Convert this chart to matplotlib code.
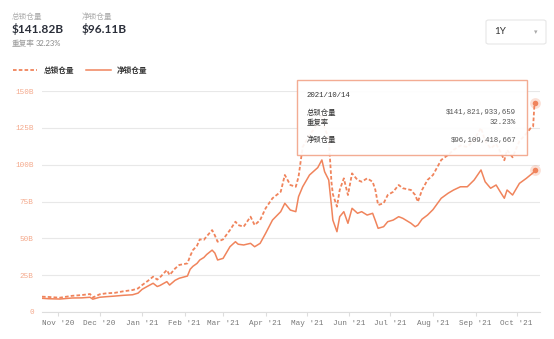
import numpy as np
import pandas as pd
import matplotlib
matplotlib.use("Agg")
import matplotlib.pyplot as plt
import matplotlib.dates as mdates
from matplotlib.patches import FancyBboxPatch

plt.rcParams['font.family'] = ['Lato', 'Noto Sans CJK SC', 'DejaVu Sans']
MONO = ['Liberation Mono', 'Noto Sans CJK SC', 'DejaVu Sans']
CJK = ['Noto Sans CJK SC', 'DejaVu Sans']

# data (billions of USD)
dates = ["2020-10-20", "2020-10-25", "2020-11-02", "2020-11-11", "2020-11-18", "2020-11-24",
         "2020-11-26", "2020-12-01", "2020-12-06", "2020-12-12", "2020-12-18", "2020-12-25",
         "2020-12-29", "2021-01-01", "2021-01-05", "2021-01-09", "2021-01-12", "2021-01-14",
         "2021-01-19", "2021-01-21", "2021-01-25", "2021-01-28", "2021-02-03", "2021-02-05",
         "2021-02-07", "2021-02-10", "2021-02-12", "2021-02-15", "2021-02-17", "2021-02-21",
         "2021-02-23", "2021-02-25", "2021-03-01", "2021-03-06", "2021-03-10", "2021-03-12",
         "2021-03-16", "2021-03-21", "2021-03-24", "2021-03-28", "2021-04-01", "2021-04-06",
         "2021-04-12", "2021-04-15", "2021-04-19", "2021-04-23", "2021-04-25", "2021-04-28",
         "2021-05-03", "2021-05-09", "2021-05-12", "2021-05-14", "2021-05-17", "2021-05-19",
         "2021-05-20", "2021-05-23", "2021-05-25", "2021-05-28", "2021-05-31", "2021-06-03",
         "2021-06-07", "2021-06-10", "2021-06-14", "2021-06-18", "2021-06-20", "2021-06-22",
         "2021-06-26", "2021-06-29", "2021-07-03", "2021-07-07", "2021-07-10", "2021-07-16",
         "2021-07-19", "2021-07-21", "2021-07-24", "2021-07-28", "2021-08-01", "2021-08-07",
         "2021-08-12", "2021-08-16", "2021-08-21", "2021-08-26", "2021-08-31", "2021-09-05",
         "2021-09-08", "2021-09-12", "2021-09-16", "2021-09-19", "2021-09-22", "2021-09-24",
         "2021-09-28", "2021-10-03", "2021-10-08", "2021-10-11", "2021-10-13", "2021-10-14"]

total_tvl = [10.4, 10.2, 9.7, 11.0, 11.5, 12.2, 9.8, 12.0, 12.7, 13.0, 14.0, 14.9,
             16.0, 18.3, 21.0, 24.0, 22.0, 23.5, 28.5, 25.1, 29.5, 31.9, 33.0, 38.0,
             42.0, 45.0, 49.3, 49.0, 51.3, 55.6, 52.0, 47.7, 49.3, 55.6, 61.3, 59.0,
             57.9, 64.7, 59.0, 62.4, 70.4, 77.2, 81.6, 93.0, 86.2, 85.0, 91.8, 112.0,
             120.0, 128.0, 133.0, 125.0, 118.0, 88.0, 80.0, 71.5, 82.8, 90.7, 79.4, 94.1,
             89.6, 88.4, 90.7, 88.4, 82.8, 72.6, 73.8, 79.4, 81.6, 86.2, 84.0, 82.8,
             79.4, 74.8, 82.8, 89.6, 93.0, 103.2, 106.6, 110.0, 113.0, 112.0, 117.0, 125.0,
             116.0, 111.0, 114.0, 109.0, 103.0, 110.0, 105.0, 116.0, 121.0, 124.6, 126.0, 141.82]

net_tvl = [9.3, 9.0, 8.8, 9.5, 9.6, 10.0, 8.7, 10.0, 10.4, 10.8, 11.3, 11.7,
           12.8, 15.4, 17.5, 19.5, 17.3, 18.0, 20.6, 18.3, 21.5, 22.9, 24.4, 29.0,
           31.0, 33.0, 35.3, 37.0, 39.0, 42.0, 40.0, 35.3, 36.4, 44.3, 47.7, 46.0,
           45.5, 46.6, 44.3, 46.6, 53.4, 62.4, 68.1, 73.8, 69.2, 68.1, 78.3, 85.0,
           93.0, 98.0, 103.2, 95.2, 89.6, 72.0, 62.4, 54.5, 64.7, 68.1, 60.2, 70.4,
           67.0, 68.1, 65.8, 67.0, 62.0, 56.8, 57.9, 61.3, 62.4, 64.7, 63.6, 60.2,
           57.9, 59.0, 63.0, 65.8, 69.5, 77.2, 80.6, 82.8, 85.0, 85.0, 89.6, 96.4,
           88.4, 84.0, 86.2, 81.6, 77.2, 82.8, 79.4, 87.3, 90.7, 93.0, 94.5, 96.11]

y_ticks = [0, 25, 50, 75, 100, 125, 150]
y_labels = ["0", "25B", "50B", "75B", "100B", "125B", "150B"]

x = pd.to_datetime(dates)
orange = "#f0845c"
W, H = 554, 339

fig = plt.figure(figsize=(W / 100, H / 100), dpi=100)
ax = fig.add_axes([42 / W, 27 / H, 498 / W, 221 / H])

ax.plot(x, total_tvl, color=orange, lw=1.3, ls=(0, (2.0, 1.2)), label="总锁仓量")
ax.plot(x, net_tvl, color=orange, lw=1.1, label="净锁仓量")
for v in (total_tvl[-1], net_tvl[-1]):
    ax.scatter(x[-1], v, s=60, color=orange, alpha=0.25, lw=0, clip_on=False, zorder=4)
    ax.scatter(x[-1], v, s=16, color=orange, lw=0, clip_on=False, zorder=5)

ax.set_ylim(0, 150)
ax.set_xlim(x[0], x[-1] + pd.Timedelta(days=4))
ax.set_yticks(y_ticks)
ax.set_yticklabels(y_labels, fontsize=5.5, color="#f4a98c", family=MONO)
ax.xaxis.set_major_locator(mdates.MonthLocator())
ax.xaxis.set_major_formatter(mdates.DateFormatter("%b '%y"))
for lab in ax.get_xticklabels():
    lab.set_fontsize(5.5)
    lab.set_color("#777777")
    lab.set_family(MONO)
ax.tick_params(axis="y", length=0, pad=6)
ax.tick_params(axis="x", length=3, color="#dddddd", pad=3)
ax.grid(axis="y", color="#e8e8e8", lw=0.8)
for s in ("top", "right", "left"):
    ax.spines[s].set_visible(False)
ax.spines["bottom"].set_color("#dddddd")

# header
fig.text(12 / W, 1 - 17 / H, "总锁仓量", fontsize=5.5, color="#aaaaaa", family=CJK, va="center")
fig.text(12 / W, 1 - 29 / H, "$141.82B", fontsize=8.6, weight="bold", color="#2b2f3a", va="center")
fig.text(82 / W, 1 - 17 / H, "净锁仓量", fontsize=5.5, color="#aaaaaa", family=CJK, va="center")
fig.text(82 / W, 1 - 29 / H, "$96.11B", fontsize=8.6, weight="bold", color="#2b2f3a", va="center")
fig.text(12 / W, 1 - 44 / H, "重复率", fontsize=5.5, color="#999999", family=CJK, va="center")
fig.text(36 / W, 1 - 44 / H, "32.23%", fontsize=5.5, color="#888888", va="center")

# 1Y selector
fig.patches.append(FancyBboxPatch((486 / W, 1 - 44 / H), 60 / W, 24 / H,
                                  boxstyle="round,pad=0,rounding_size=0.005",
                                  transform=fig.transFigure, fc="white", ec="#e6e6e6", lw=0.8))
fig.text(494 / W, 1 - 32 / H, "1Y", fontsize=7, color="#333333", va="center")
fig.text(534 / W, 1 - 32 / H, "▾", fontsize=5, color="#aaaaaa", va="center")

# legend
leg = fig.legend(loc="center left", bbox_to_anchor=(6 / W, 1 - 70 / H), ncol=2, frameon=False,
                 prop={"family": CJK, "size": 5.5, "weight": "bold"}, handlelength=3.2,
                 columnspacing=1.6, handletextpad=0.8)
for t in leg.get_texts():
    t.set_color("#333333")

# tooltip
fig.patches.append(FancyBboxPatch((297 / W, 1 - 155 / H), 230 / W, 75 / H, boxstyle="square,pad=0",
                                  transform=fig.transFigure, fc="white", ec="#f2a58a",
                                  lw=1, alpha=0.92, zorder=10))
tip = [(95, "2021/10/14", ""), (113, "总锁仓量", "$141,821,933,659"),
       (123, "重复率", "32.23%"), (140, "净锁仓量", "$96,109,418,667")]
for yy, left, right in tip:
    fig.text(307 / W, 1 - yy / H, left, fontsize=5.3, color="#333333", family=MONO, va="center", zorder=11)
    if right:
        fig.text(516 / W, 1 - yy / H, right, fontsize=5.3, color="#555555", family=MONO,
                 va="center", ha="right", zorder=11)

fig.savefig("out.png", dpi=100)
